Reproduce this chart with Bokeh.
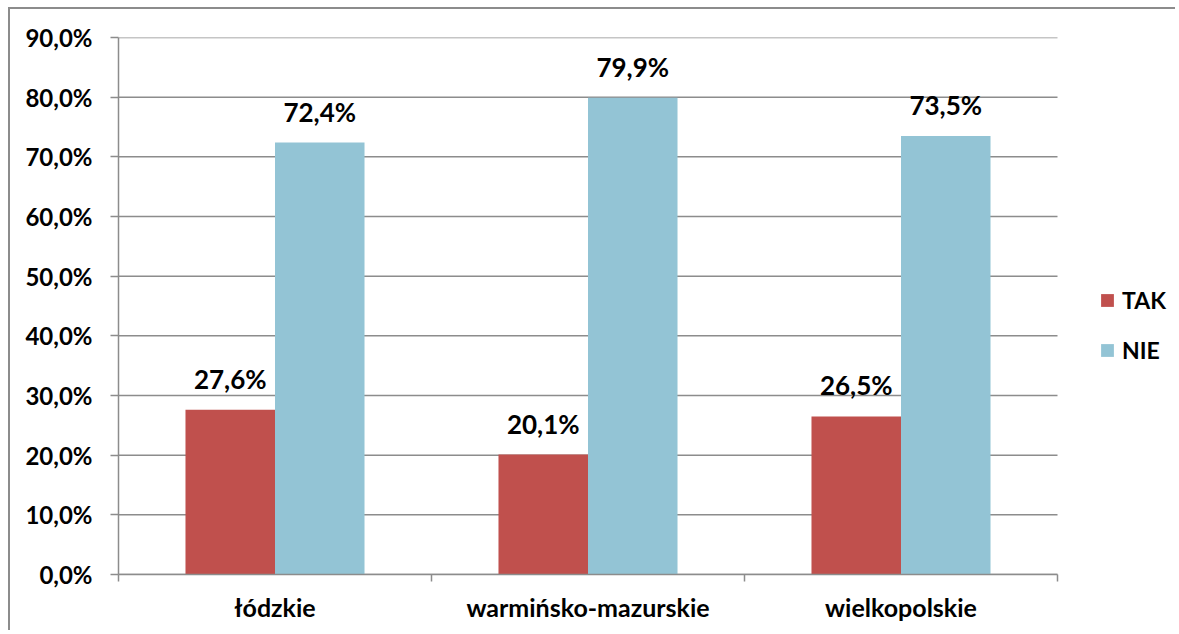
from bokeh.plotting import figure
from bokeh.models import (ColumnDataSource, FixedTicker, LabelSet, Legend, LegendItem,
                          Range1d)
from bokeh.core.properties import value
from bokeh.embed import file_html
from bokeh.resources import INLINE

categories = ["łódzkie", "warmińsko-mazurskie", "wielkopolskie"]
series_names = ["TAK", "NIE"]
tak = [27.6, 20.1, 26.5]
nie = [72.4, 79.9, 73.5]
y_ticks = [0, 10, 20, 30, 40, 50, 60, 70, 80, 90]
y_tick_labels = ["0,0%", "10,0%", "20,0%", "30,0%", "40,0%", "50,0%", "60,0%", "70,0%", "80,0%", "90,0%"]
colors = ["#C0504D", "#93C4D5"]

FONT = "Lato"
GRID = "#8c8c8c"

n = len(categories)
# frame extends nearly to the right edge; data area covers 0..n (939 px), rest holds the legend
x_end = n * 1051.0 / 939.0

p = figure(width=1167, height=623, output_backend="svg", toolbar_location=None,
           x_range=Range1d(0, x_end), y_range=Range1d(0, 90),
           min_border_left=108, min_border_right=8, min_border_top=28, min_border_bottom=58)
p.styles = {"border-top": "2px solid #8c8c8c", "border-left": "2px solid #8c8c8c",
            "margin-top": "7px", "margin-left": "8px"}
p.outline_line_color = None
p.background_fill_color = "white"
p.border_fill_color = "white"

# horizontal grid lines over the category area only
p.segment(x0=[0] * len(y_ticks), x1=[n] * len(y_ticks), y0=y_ticks, y1=y_ticks,
          line_color=GRID, line_width=1.5)

centers = [i + 0.5 for i in range(n)]
bw = 0.286
src = ColumnDataSource(dict(
    x_tak=[c - bw / 2 for c in centers], x_nie=[c + bw / 2 for c in centers],
    tak=tak, nie=nie,
    tak_lbl=[f"{v:.1f}%".replace(".", ",") for v in tak],
    nie_lbl=[f"{v:.1f}%".replace(".", ",") for v in nie],
))
r1 = p.vbar(x="x_tak", top="tak", width=bw, source=src, fill_color=colors[0], line_color=None)
r2 = p.vbar(x="x_nie", top="nie", width=bw, source=src, fill_color=colors[1], line_color=None)

for xcol, ycol, lcol in [("x_tak", "tak", "tak_lbl"), ("x_nie", "nie", "nie_lbl")]:
    p.add_layout(LabelSet(x=xcol, y=ycol, text=lcol, source=src, y_offset=21,
                          text_align="center", text_baseline="alphabetic",
                          text_font=value(FONT), text_font_style="bold", text_font_size="26px",
                          text_color="black"))

# x axis
p.xaxis.bounds = (0, n)
p.xaxis.ticker = FixedTicker(ticks=centers, minor_ticks=list(range(n + 1)))
p.xaxis.major_label_overrides = {c: name for c, name in zip(centers, categories)}
p.xaxis.major_tick_line_color = None
p.xaxis.major_tick_out = 0
p.xaxis.major_tick_in = 0
p.xaxis.minor_tick_line_color = GRID
p.xaxis.minor_tick_line_width = 1.5
p.xaxis.minor_tick_out = 7
p.xaxis.minor_tick_in = 0
p.xaxis.axis_line_color = GRID
p.xaxis.axis_line_width = 1.5
p.xaxis.major_label_standoff = 10
p.xaxis.major_label_text_font = FONT
p.xaxis.major_label_text_font_style = "bold"
p.xaxis.major_label_text_font_size = "25px"
p.xaxis.major_label_text_color = "black"
p.xgrid.grid_line_color = None

# y axis
p.yaxis.ticker = FixedTicker(ticks=y_ticks, minor_ticks=[])
p.yaxis.major_label_overrides = {t: l for t, l in zip(y_ticks, y_tick_labels)}
p.yaxis.axis_line_color = GRID
p.yaxis.axis_line_width = 1.5
p.yaxis.major_tick_line_color = GRID
p.yaxis.major_tick_line_width = 1.5
p.yaxis.major_tick_out = 8
p.yaxis.major_tick_in = 0
p.yaxis.major_label_standoff = 18
p.yaxis.major_label_text_font = FONT
p.yaxis.major_label_text_font_style = "bold"
p.yaxis.major_label_text_font_size = "24px"
p.yaxis.major_label_text_color = "black"
p.ygrid.grid_line_color = None

legend = Legend(items=[LegendItem(label=series_names[0], renderers=[r1]),
                       LegendItem(label=series_names[1], renderers=[r2])],
                location=(981, 210), orientation="vertical",
                glyph_width=16, glyph_height=16, label_height=20, spacing=22,
                padding=0, margin=0, border_line_color=None, background_fill_alpha=0,
                label_text_font=FONT, label_text_font_style="bold", label_text_font_size="23px",
                label_text_color="black", label_standoff=7)
p.add_layout(legend, "center")

open("out.html", "w").write(file_html(p, INLINE))
